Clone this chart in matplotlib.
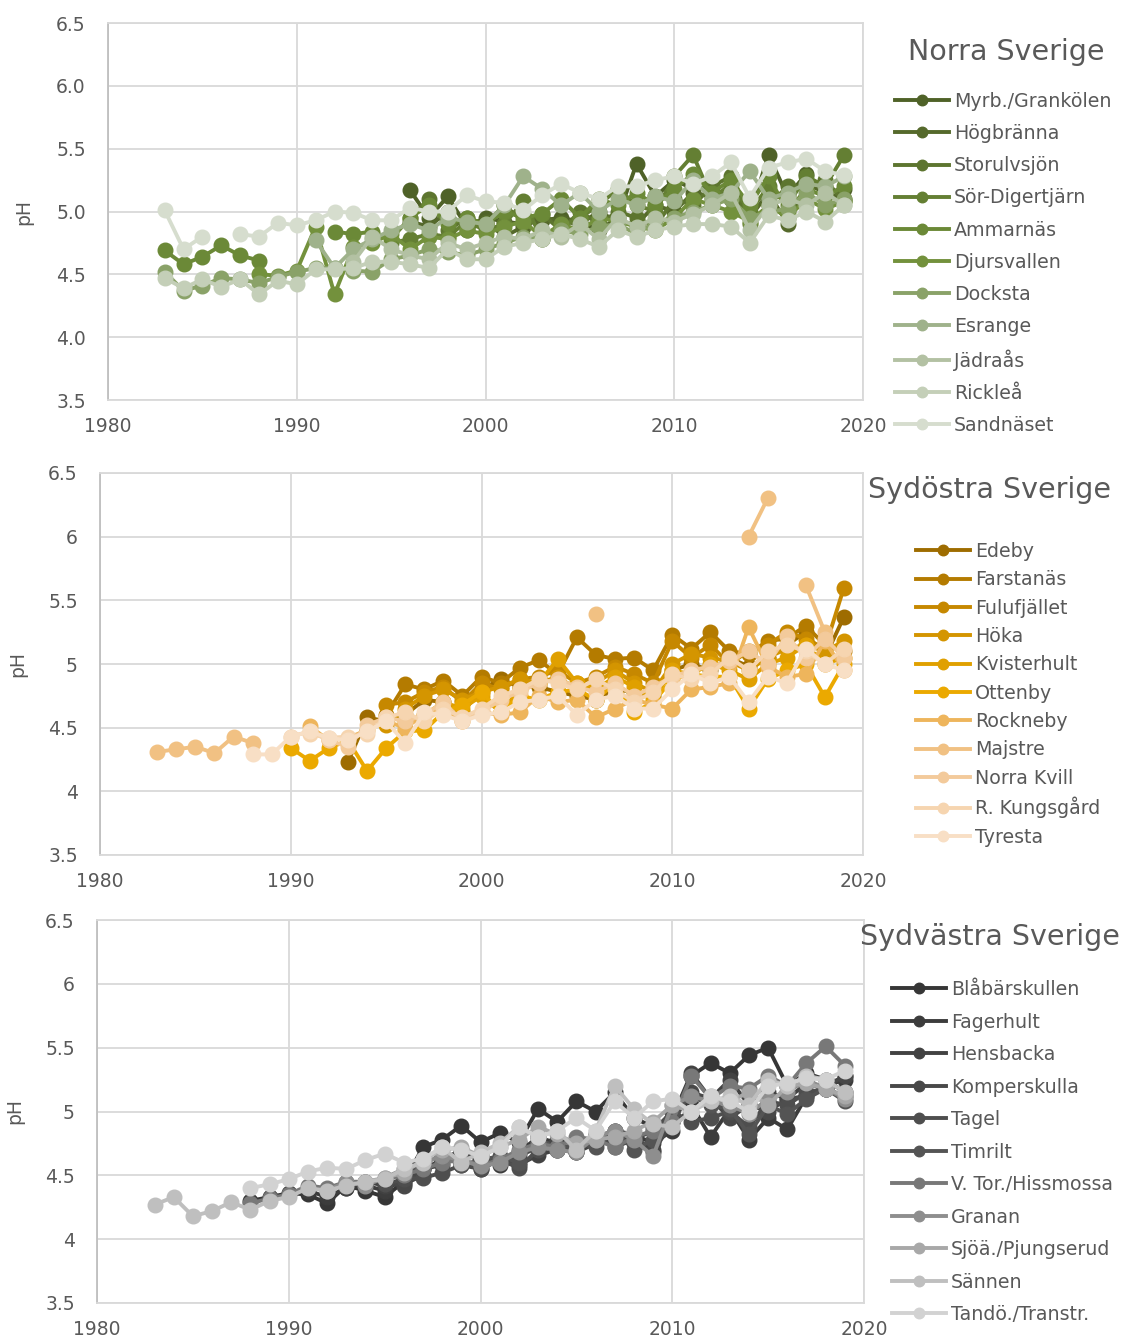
import numpy as np
import matplotlib
matplotlib.use("Agg")
import matplotlib.pyplot as plt
from matplotlib.ticker import FuncFormatter, MultipleLocator

plt.rcParams['font.family'] = ['DejaVu Sans']

nan = np.nan
years = np.arange(1983, 2020)

# --- Norra Sverige ---
norra_names = ['Myrb./Grankölen', 'Högbränna', 'Storulvsjön', 'Sör-Digertjärn', 'Ammarnäs',
               'Djursvallen', 'Docksta', 'Esrange', 'Jädraås', 'Rickleå', 'Sandnäset']
norra_start = [1996, 1996, 1996, 1995, 1983, 1988, 1983, 1991, 1993, 1983, 1983]
norra_ph = [
    [5.17, 4.95, 5.12, 4.88, 4.95, 4.92, 4.90, 4.93, 4.95, 4.92, 4.85, 4.95, 5.38, 5.12, 5.25, 5.18,
     5.20, 5.10, 4.98, 5.45, 5.12, 5.30, 5.15, 5.18],
    [4.92, 4.88, 5.00, 4.85, 4.92, 4.80, 4.88, 4.95, 4.92, 4.90, 5.00, 4.92, 4.90, 5.05, 5.00, 5.15,
     5.12, 5.18, 4.95, 5.15, 4.90, 5.22, 5.15, 5.10],
    [4.95, 5.10, 4.85, 4.95, 4.90, 5.05, 4.92, 4.98, 4.85, 5.00, 4.90, 5.00, 4.95, 4.88, 5.10, 5.05,
     5.20, 5.28, 4.90, 5.05, 5.20, 5.20, 5.25, 5.08],
    [4.75, 4.78, 4.82, 4.80, 4.92, 4.85, 4.90, 5.08, 4.78, 4.88, 4.95, 5.05, 5.18, 5.05, 5.00, 5.28,
     5.45, 5.10, 5.22, 5.00, 5.20, 5.05, 5.28, 5.20, 5.45],
    [4.69, 4.58, 4.64, 4.73, 4.65, 4.61, nan, nan, nan, 4.84, 4.82, 4.84, 4.78, 4.95, 5.05, 4.90,
     4.95, 4.90, 5.00, 4.95, 4.98, 5.10, 4.95, 5.10, 5.05, 5.15, 5.05, 5.18, 5.30, 5.15, 5.25, 5.05,
     5.28, 5.00, 5.18, 5.12, 5.20],
    [4.50, 4.49, 4.53, 4.88, 4.34, 4.72, 4.75, 4.82, 4.70, 4.80, 4.78, 4.85, 4.82, 4.88, 4.92, 4.80,
     4.90, 4.85, 4.95, 4.92, 4.88, 4.85, 4.95, 5.10, 5.05, 5.00, 4.92, 5.05, 4.95, 5.10, 5.02, 5.08],
    [4.52, 4.37, 4.41, 4.47, 4.46, 4.43, 4.48, 4.52, 4.55, 4.55, 4.53, 4.52, 4.62, 4.65, 4.70, 4.68,
     4.65, 4.70, 4.75, 4.80, 4.78, 4.85, 4.82, 4.88, 4.90, 4.82, 4.92, 4.95, 5.00, 5.05, 5.10, 4.95,
     5.00, 5.02, 5.15, 5.05, 5.10],
    [4.77, 4.55, 4.70, 4.78, 4.85, 4.90, 4.85, 4.95, 4.92, 4.90, 5.05, 5.28, 5.18, 5.05, 5.15, 5.00,
     5.10, 5.05, 5.12, 5.08, 5.25, 5.10, 5.15, 5.32, 5.10, 5.15, 5.22, 5.20, 5.28],
    [4.60, 4.80, 4.70, 4.65, 4.62, 4.75, 4.70, 4.75, 4.80, 4.78, 4.85, 4.80, 4.90, 4.78, 4.95, 4.88,
     4.95, 4.92, 4.98, 5.05, 5.15, 4.85, 5.05, 5.10, 5.05, 5.15, 5.05],
    [4.47, 4.39, 4.46, 4.40, 4.46, 4.34, 4.45, 4.42, 4.54, 4.54, 4.55, 4.60, 4.60, 4.58, 4.55, 4.70,
     4.62, 4.62, 4.72, 4.75, 4.78, 4.82, 4.78, 4.72, 4.85, 4.80, 4.85, 4.88, 4.90, 4.90, 4.88, 4.75,
     4.97, 4.93, 5.00, 4.92, 5.05],
    [5.01, 4.70, 4.80, nan, 4.82, 4.80, 4.91, 4.89, 4.93, 5.00, 4.99, 4.93, 4.93, 5.03, 5.00, 5.00,
     5.13, 5.08, 5.07, 5.01, 5.13, 5.22, 5.15, 5.10, 5.20, 5.20, 5.25, 5.28, 5.22, 5.28, 5.39, 5.11,
     5.35, 5.39, 5.42, 5.32, 5.29],
]
norra_colors = ['#4f6228', '#55692b', '#5d752f', '#647f33', '#6b8937', '#73913c',
                '#8aa268', '#9fb28b', '#b3c1a3', '#c4cfb8', '#d6ddce']

# --- Sydöstra Sverige ---
sydost_names = ['Edeby', 'Farstanäs', 'Fulufjället', 'Höka', 'Kvisterhult', 'Ottenby',
                'Rockneby', 'Majstre', 'Norra Kvill', 'R. Kungsgård', 'Tyresta']
sydost_start = [1993, 1995, 1995, 1995, 1996, 1990, 1991, 1983, 1990, 1991, 1988]
sydost_ph = [
    [4.23, 4.58, 4.55, 4.60, 4.72, 4.70, 4.62, 4.80, 4.88, 4.82, 4.82, 4.78, 4.75, 4.72, 4.80, 4.78,
     4.75, 4.95, 5.00, 4.95, 5.05, 4.98, 5.05, 5.15, 5.25, 5.05, 5.37],
    [4.60, 4.84, 4.80, 4.87, 4.75, 4.90, 4.85, 4.97, 5.03, 4.92, 5.21, 5.07, 5.04, 5.05, 4.95, 5.23,
     5.12, 5.25, 5.10, 5.08, 5.18, 5.20, 5.30, 5.15, 5.10],
    [4.68, 4.70, 4.78, 4.82, 4.70, 4.85, 4.80, 4.88, 4.90, 4.95, 4.85, 4.90, 4.98, 4.92, 4.85, 5.18,
     5.05, 5.15, 5.00, 5.10, 5.15, 5.25, 5.20, 5.12, 5.60],
    [4.52, 4.65, 4.75, 4.80, 4.72, 4.78, 4.82, 4.88, 4.85, 4.90, 4.80, 4.85, 4.95, 4.85, 4.78, 5.00,
     5.08, 5.05, 5.02, 4.95, 5.05, 5.12, 5.15, 5.10, 5.18],
    [4.55, 4.60, 4.70, 4.65, 4.75, 4.62, 4.80, 4.85, 5.04, 4.85, 4.80, 4.90, 4.82, 4.72, 4.95, 4.92,
     5.00, 4.95, 4.88, 5.00, 5.05, 5.15, 5.00, 5.05],
    [4.34, 4.24, 4.34, 4.40, 4.16, 4.34, 4.47, 4.48, 4.62, 4.68, 4.78, 4.62, 4.75, 4.72, 4.78, 4.80,
     4.72, 4.85, 4.62, 4.70, 4.88, 4.92, 4.90, 4.90, 4.65, 4.88, 4.95, 5.00, 4.74, 5.00],
    [4.51, 4.40, 4.42, 4.48, 4.55, 4.50, 4.60, 4.65, 4.55, 4.62, 4.60, 4.62, 4.75, 4.70, 4.72, 4.58,
     4.65, 4.72, 4.68, 4.65, 4.80, 4.82, 4.85, 5.29, 4.98, 4.90, 4.92, 5.18, 4.95],
    [4.31, 4.33, 4.35, 4.30, 4.43, 4.38, nan, nan, nan, nan, nan, nan, nan, nan, nan, nan,
     nan, nan, nan, nan, nan, nan, nan, 5.39, nan, nan, nan, nan, nan, nan, nan, 6.00,
     6.30, nan, 5.62, 5.25, nan],
    [4.43, 4.47, 4.40, 4.35, 4.52, 4.58, 4.55, 4.60, 4.70, 4.55, 4.62, 4.72, 4.78, 4.85, 4.88, 4.82,
     4.78, 4.85, 4.75, 4.82, 4.90, 4.95, 4.98, 5.02, 5.10, 5.00, 5.22, 5.05, 5.20, 5.05],
    [4.45, 4.42, 4.43, 4.45, 4.58, 4.62, 4.55, 4.65, 4.58, 4.65, 4.75, 4.80, 4.88, 4.85, 4.80, 4.88,
     4.80, 4.70, 4.78, 4.92, 4.88, 4.92, 5.05, 4.95, 5.10, 5.15, 5.10, 5.00, 5.12],
    [4.29, 4.29, 4.43, 4.47, 4.42, 4.40, 4.47, 4.55, 4.38, 4.62, 4.60, 4.55, 4.60, 4.62, 4.70, 4.72,
     4.75, 4.60, 4.72, 4.75, 4.65, 4.65, 4.80, 4.92, 4.85, 4.90, 4.70, 4.90, 4.85, 5.12, 5.00, 4.95],
]
sydost_colors = ['#9e6c00', '#b47b00', '#c68800', '#d49500', '#e0a000', '#eba900',
                 '#eeb55c', '#f1c183', '#f3ca9b', '#f6d5b0', '#f8dfc5']

# --- Sydvästra Sverige ---
sydvast_names = ['Blåbärskullen', 'Fagerhult', 'Hensbacka', 'Komperskulla', 'Tagel', 'Timrilt',
                 'V. Tor./Hissmossa', 'Granan', 'Sjöä./Pjungserud', 'Sännen', 'Tandö./Transtr.']
sydvast_start = [1988, 1991, 1993, 1995, 1995, 1996, 1988, 1992, 1994, 1983, 1988]
sydvast_ph = [
    [4.30, 4.33, 4.36, 4.35, 4.28, 4.42, 4.38, 4.33, 4.45, 4.72, 4.78, 4.89, 4.76, 4.83, 4.76, 5.02,
     4.92, 5.08, 5.00, 5.15, 4.95, 4.88, 4.95, 5.28, 5.38, 5.30, 5.44, 5.50, 5.20, 5.30, 5.25, 5.15],
    [4.38, 4.33, 4.40, 4.42, 4.38, 4.48, 4.55, 4.62, 4.70, 4.65, 4.58, 4.68, 4.80, 4.75, 4.70, 4.80,
     4.85, 4.82, 4.75, 4.85, 5.05, 4.80, 5.02, 4.78, 4.95, 4.86, 5.12, 5.20, 5.25],
    [4.40, 4.45, 4.42, 4.43, 4.50, 4.65, 4.60, 4.55, 4.62, 4.58, 4.66, 4.70, 4.68, 4.75, 4.78, 4.80,
     4.70, 4.95, 5.30, 5.10, 5.25, 5.05, 5.15, 5.10, 5.22, 5.18, 5.28],
    [4.45, 4.42, 4.55, 4.58, 4.70, 4.60, 4.62, 4.65, 4.72, 4.78, 4.75, 4.78, 4.80, 4.75, 4.68, 4.92,
     5.15, 5.10, 4.95, 5.05, 5.00, 5.10, 5.12, 5.20, 5.28],
    [4.43, 4.47, 4.48, 4.52, 4.58, 4.55, 4.62, 4.56, 4.70, 4.72, 4.68, 4.82, 4.72, 4.78, 4.85, 5.00,
     4.92, 4.95, 5.00, 4.88, 5.08, 5.05, 5.15, 5.18, 5.12],
    [4.50, 4.60, 4.65, 4.58, 4.62, 4.65, 4.60, 4.80, 4.70, 4.75, 4.72, 4.85, 4.70, 4.78, 5.00, 5.12,
     5.05, 5.02, 4.82, 5.05, 4.98, 5.10, 5.18, 5.08],
    [4.28, 4.32, 4.35, 4.42, 4.40, 4.45, 4.45, 4.47, 4.50, 4.55, 4.60, 4.62, 4.58, 4.62, 4.70, 4.75,
     4.72, 4.80, 4.78, 4.72, 4.80, 4.85, 4.92, 5.28, 5.10, 5.20, 5.18, 5.28, 5.20, 5.38, 5.51, 5.36],
    [4.38, 4.45, 4.42, 4.48, 4.55, 4.60, 4.65, 4.62, 4.57, 4.60, 4.68, 4.72, 4.70, 4.68, 4.80, 4.85,
     4.78, 4.65, 5.05, 5.12, 5.08, 5.05, 4.98, 5.10, 5.15, 5.25, 5.18, 5.10],
    [4.45, 4.48, 4.52, 4.62, 4.70, 4.72, 4.65, 4.72, 4.78, 4.88, 4.82, 4.75, 4.78, 4.80, 4.85, 4.92,
     5.05, 5.00, 5.12, 5.08, 5.15, 5.05, 5.20, 5.22, 5.18, 5.12],
    [4.27, 4.33, 4.18, 4.22, 4.29, 4.23, 4.30, 4.33, 4.40, 4.38, 4.42, 4.45, 4.47, 4.55, 4.60, 4.72,
     4.60, 4.68, 4.75, 4.88, 4.80, 4.85, 4.70, 4.85, 5.20, 5.02, 4.90, 4.88, 5.00, 5.08, 5.12, 5.05,
     5.25, 5.20, 5.28, 5.25, 5.15],
    [4.40, 4.43, 4.47, 4.53, 4.56, 4.55, 4.62, 4.67, 4.60, 4.63, 4.72, 4.70, 4.65, 4.72, 4.88, 4.80,
     4.85, 4.95, 4.85, 5.08, 4.95, 5.08, 5.10, 5.00, 5.12, 5.08, 5.00, 5.20, 5.22, 5.26, 5.25, 5.32],
]
sydvast_colors = ['#363636', '#3c3c3c', '#424242', '#484848', '#4e4e4e', '#545454',
                  '#787878', '#8e8e8e', '#a8a8a8', '#bfbfbf', '#d2d2d2']

TXT = '#595959'
GRID = '#d9d9d9'
W, H = 1127, 1344


def expand(start, vals):
    out = np.full(len(years), np.nan)
    i = start - years[0]
    out[i:i + len(vals)] = vals
    return out


def draw_panel(fig, box, names, starts, values, colors, title, title_xy, leg_xy, lspace, one_dec, ylab_x):
    left, top, right, bottom = box
    ax = fig.add_axes([left / W, 1 - bottom / H, (right - left) / W, (bottom - top) / H])
    for name, st, vals, c in zip(names, starts, values, colors):
        ax.plot(years, expand(st, vals), '-o', color=c, lw=2.8, ms=10.5, label=name, clip_on=False)
    ax.set_xlim(1980, 2020)
    ax.set_ylim(3.5, 6.5)
    ax.xaxis.set_major_locator(MultipleLocator(10))
    ax.yaxis.set_major_locator(MultipleLocator(0.5))
    if one_dec:
        ax.yaxis.set_major_formatter(FuncFormatter(lambda v, p: f'{v:.1f}'))
    else:
        ax.yaxis.set_major_formatter(FuncFormatter(lambda v, p: f'{v:g}'))
    ax.grid(True, color=GRID, lw=1.3)
    ax.set_axisbelow(True)
    for s in ['top', 'right', 'bottom']:
        ax.spines[s].set_color(GRID)
        ax.spines[s].set_linewidth(1.3)
    ax.spines['left'].set_color('#bfbfbf')
    ax.spines['left'].set_linewidth(1.3)
    ax.tick_params(length=0, labelsize=13.5, labelcolor=TXT)
    ax.tick_params(axis='y', pad=16)
    ax.tick_params(axis='x', pad=12)
    ax.set_ylabel('pH', fontsize=13.5, color=TXT)
    ax.yaxis.set_label_coords((ylab_x - left) / (right - left), 0.5)
    fig.text(title_xy[0] / W, 1 - title_xy[1] / H, title, ha='center', va='center',
             fontsize=20.5, color=TXT)
    ax.legend(loc='upper left', bbox_to_anchor=(leg_xy[0] / W, 1 - leg_xy[1] / H),
              bbox_transform=fig.transFigure, frameon=False, fontsize=13.7,
              labelspacing=lspace, handlelength=2.85, handletextpad=0.25, markerscale=0.72,
              borderpad=0, borderaxespad=0, labelcolor=TXT)
    return ax


fig = plt.figure(figsize=(W / 100, H / 100), dpi=100)

draw_panel(fig, (108, 23, 863, 400), norra_names, norra_start, norra_ph, norra_colors,
           'Norra Sverige', (1006, 52), (895, 92), 0.69, True, 33)
draw_panel(fig, (100, 473, 863, 855), sydost_names, sydost_start, sydost_ph, sydost_colors,
           'Sydöstra Sverige', (989, 490), (916, 542), 0.49, False, 27)
draw_panel(fig, (97, 920, 864, 1303), sydvast_names, sydvast_start, sydvast_ph, sydvast_colors,
           'Sydvästra Sverige', (990, 937), (892, 980), 0.71, False, 24)

fig.savefig('out.png', dpi=100)
